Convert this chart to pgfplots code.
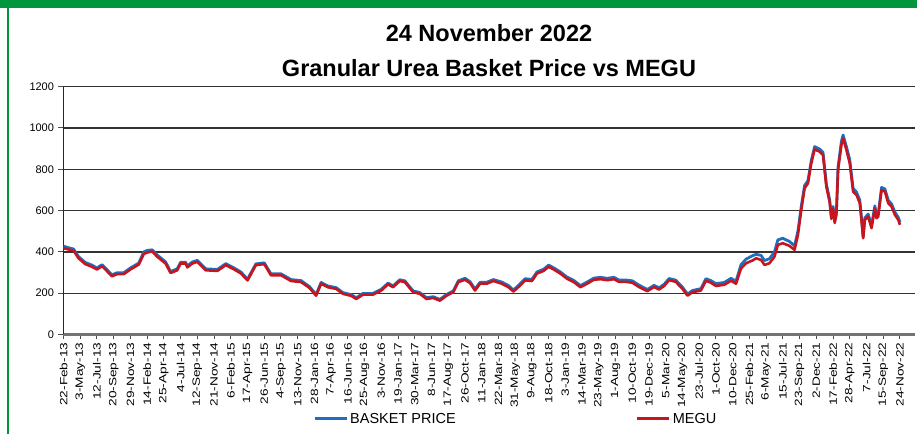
\documentclass[border=0pt]{standalone}
\usepackage{fontspec}
\setmainfont{Liberation Sans}
\newfontfamily\xlab[FakeStretch=1.3]{Liberation Sans}
\usepackage{pgfplots}
\pgfplotsset{compat=1.18}
\usepackage{pgfplotstable}
\definecolor{frameg}{RGB}{0,150,60}
\definecolor{basket}{RGB}{30,112,190}
\definecolor{megu}{RGB}{200,20,30}
\pgfplotstableread{
w basket megu
0 428 418
3 420 412
6 414 406
9 377 369
13 349 341
17 336 328
20 322 315
23 338 331
25 322 315
29 289 282
32 299 292
36 299 292
40 322 315
45 346 339
48 400 390
50 407 397
53 410 402
56 385 377
61 352 344
64 305 298
68 318 311
70 350 344
73 350 344
74 332 325
77 351 344
80 359 352
85 318 311
92 315 308
97 343 336
102 322 315
106 303 296
110 268 262
115 342 336
120 347 341
124 294 287
130 294 287
136 266 259
142 261 254
147 232 226
151 194 188
154 252 246
158 235 229
163 227 221
167 203 197
172 193 187
175 178 172
179 199 193
185 199 193
190 219 213
194 249 243
197 235 229
201 265 259
204 260 254
209 211 205
213 203 197
217 178 172
221 183 177
225 170 164
229 194 188
233 211 205
236 260 254
240 272 265
243 256 249
246 220 213
249 253 246
253 253 246
257 266 259
262 254 246
266 237 229
269 215 208
273 246 238
276 270 262
280 267 259
283 303 295
287 316 308
290 336 328
293 323 315
297 303 295
301 278 270
305 262 254
309 237 229
313 254 246
317 273 265
321 277 268
325 272 263
329 277 268
332 264 255
336 264 255
340 260 251
344 239 230
349 218 210
353 238 230
356 226 218
359 243 235
362 271 263
366 263 255
370 229 221
373 196 188
376 213 205
381 222 213
384 270 260
387 261 251
390 246 235
395 252 241
399 272 260
402 258 246
405 338 320
408 365 345
412 382 359
414 388 369
417 383 361
419 358 337
422 367 345
425 400 377
427 458 434
430 466 442
434 450 429
437 430 410
439 500 482
441 620 603
443 722 708
445 745 732
447 842 829
449 910 897
452 898 885
454 882 869
456 730 716
458 652 640
459 570 560
460 620 610
461 550 540
462 590 580
463 810 797
465 935 918
466 966 950
468 910 894
470 845 829
472 708 692
474 690 676
476 650 636
477 565 555
478 474 466
479 565 555
481 583 571
483 527 515
485 623 611
486 575 563
487 583 571
489 712 700
491 705 692
493 650 636
495 632 619
497 592 579
499 567 555
500 543 531
}\data
\begin{document}
\begin{tikzpicture}[x=1bp,y=1bp]
\path[use as bounding box] (-63.5,-99.5) rectangle (853.5,334.5);
\fill[frameg] (-63.5,326.5) rectangle (853.5,334.5);
\draw[frameg, line width=2bp] (-55.5,-99.5) -- (-55.5,326.5);
\node[font=\bfseries\fontsize{23.5bp}{26bp}\selectfont] at (425.5,301.5) {24 November 2022};
\node[font=\bfseries\fontsize{23.5bp}{26bp}\selectfont] at (425.5,266.5) {Granular Urea Basket Price vs MEGU};
\begin{axis}[
  scale only axis, width=851.5bp, height=247.8bp,
  xmin=0, xmax=509, ymin=0, ymax=1200,
  axis x line*=bottom, axis y line*=left,
  axis line style={-},
  x axis line style={draw=black!55, line width=2.5bp},
  y axis line style={draw=black!85, line width=1.4bp},
  ytick={0,200,...,1200},
  ymajorgrids, major grid style={draw=black!80, line width=1.3bp},
  xtick={0,10,...,500},
  xticklabels={22-Feb-13,3-May-13,12-Jul-13,20-Sep-13,29-Nov-13,14-Feb-14,25-Apr-14,4-Jul-14,12-Sep-14,21-Nov-14,6-Feb-15,17-Apr-15,26-Jun-15,4-Sep-15,13-Nov-15,28-Jan-16,7-Apr-16,16-Jun-16,25-Aug-16,3-Nov-16,19-Jan-17,30-Mar-17,8-Jun-17,17-Aug-17,26-Oct-17,11-Jan-18,22-Mar-18,31-May-18,9-Aug-18,18-Oct-18,3-Jan-19,14-Mar-19,23-May-19,1-Aug-19,10-Oct-19,19-Dec-19,5-Mar-20,14-May-20,23-Jul-20,1-Oct-20,10-Dec-20,25-Feb-21,6-May-21,15-Jul-21,23-Sep-21,2-Dec-21,17-Feb-22,28-Apr-22,7-Jul-22,15-Sep-22,24-Nov-22},
  x tick label style={rotate=90, anchor=east, font=\xlab\fontsize{10.5bp}{12bp}\selectfont, inner sep=1bp},
  y tick label style={font=\fontsize{11bp}{12bp}\selectfont},
  xticklabel shift=2bp, yticklabel shift=1bp,
  tick align=outside, major tick length=5bp,
  tick style={draw=black!70, line width=1bp},
  /pgf/number format/assume math mode=true,
  /pgf/number format/1000 sep={},
  legend columns=2,
  legend style={draw=none, fill=none, at={(0.293,-0.341)}, anchor=west, inner sep=0pt,
    nodes={inner xsep=2bp, inner ysep=0pt, font=\fontsize{14.5bp}{15bp}\selectfont},
    /tikz/every even column/.append style={column sep=178bp}},
  legend image code/.code={\draw[#1, line width=3bp] (0,0) -- (32bp,0);},
]
\addplot[basket, line width=2.8bp, line join=round] table[x=w, y=basket] {\data};
\addlegendentry{BASKET PRICE}
\addplot[megu, line width=2.6bp, line join=round] table[x=w, y=megu] {\data};
\addlegendentry{MEGU}
\end{axis}
\end{tikzpicture}
\end{document}
